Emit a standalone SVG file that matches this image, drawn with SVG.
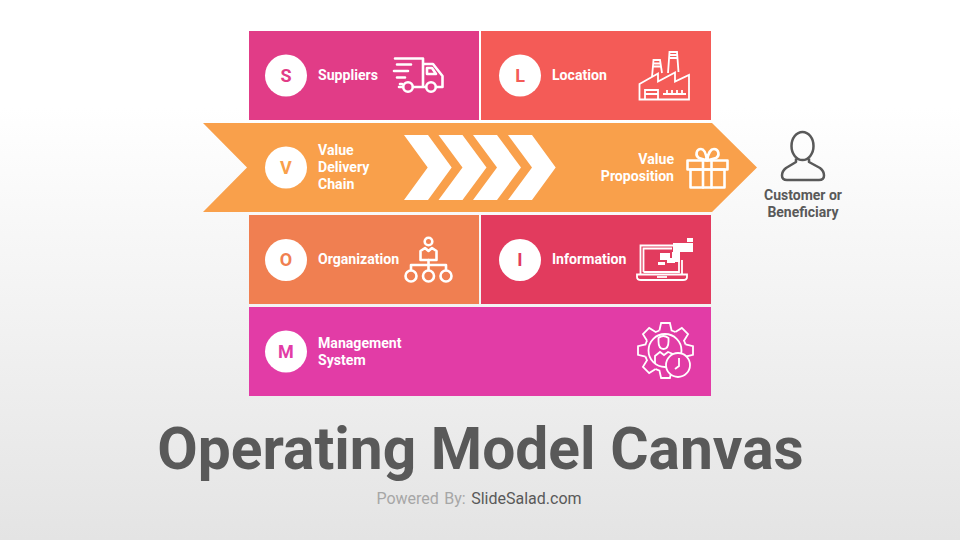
<svg xmlns="http://www.w3.org/2000/svg" width="960" height="540" viewBox="0 0 960 540">
<defs>
<linearGradient id="bg" x1="0" y1="0" x2="0" y2="1"><stop offset="0.2" stop-color="#ffffff"/><stop offset="1" stop-color="#e4e4e4"/></linearGradient>
<path id="tooth" d="M-6.100 -20L-4.400 -27.500H4.400L6.100 -20A21 21 0 0 1 9.830 -18.450"/>
</defs>
<style>
text{font-family:Roboto,"Liberation Sans",sans-serif}
.l{font-size:14.100px;font-weight:700;fill:#fff}
.c{font-size:18px;font-weight:700;text-anchor:middle}
.i{fill:none;stroke:#fff;stroke-width:2.600;stroke-linejoin:round;stroke-linecap:round}
.t{fill:none;stroke:#fff;stroke-width:1.800;stroke-linejoin:miter}
</style>
<rect width="960" height="540" fill="url(#bg)"/>
<g id="node-s">
<rect x="249" y="31" width="230" height="89" fill="#e13c87"/>
<circle cx="286" cy="75.500" r="21" fill="#fff"/><text class="c" x="286" y="81.500" fill="#e13c87">S</text>
<text class="l" x="318" y="80">Suppliers</text>
<g class="i">
<path d="M395 58.500H423V87H413M403 87H399M423 87H426M423 64H433L442.500 76V87H436"/>
<path d="M427 68H432L436 74H427Z"/>
<circle cx="408" cy="87" r="4.800"/><circle cx="431" cy="87" r="4.800"/>
<path d="M397 64.500H411M394 71H408M397 77.500H405M400 84H402"/>
</g>
</g>
<g id="node-l">
<rect x="481" y="31" width="230" height="89" fill="#f45b57"/>
<circle cx="520" cy="75.500" r="21" fill="#fff"/><text class="c" x="520" y="81.500" fill="#f45b57">L</text>
<text class="l" x="552" y="80">Location</text>
<g class="t">
<path d="M639.500 99.500V84L658 73.500V81.500L675 72.500V81.500L689 75V99.500Z"/>
<path d="M652 77L653.500 60H660L662 73"/><path d="M668 73L669.500 52H677L678.500 72"/>
<path d="M653 63.500H661M653 66.500H661M669.500 55H677.500M669.500 58H677.500"/>
<path d="M645 99V90H658V99M645 94H658"/>
<path d="M663 94H686M667 90V94M672 90V94M677 90V94M682 90V94"/>
</g>
</g>
<g id="node-v">
<path d="M203 123H712L757 167.500L712 212H203L247 167.500Z" fill="#f9a04b"/>
<circle cx="286" cy="167.500" r="21" fill="#fff"/><text class="c" x="286" y="174" fill="#f9a04b">V</text>
<text class="l" x="318" y="155">Value</text><text class="l" x="318" y="172">Delivery</text><text class="l" x="318" y="189">Chain</text>
<g fill="#fff">
<path d="M404 135H428L451.700 167.500L428 200H404L427.700 167.500Z"/>
<path d="M438.500 135H462.500L486.500 167.500L462.500 200H438.500L462.500 167.500Z"/>
<path d="M473 135H497L521 167.500L497 200H473L497 167.500Z"/>
<path d="M508 135H532L555.700 167.500L532 200H508L532 167.500Z"/>
</g>
<text class="l" x="674" y="164" text-anchor="end">Value</text><text class="l" x="674" y="181" text-anchor="end">Proposition</text>
<g class="i">
<rect x="687.500" y="160.500" width="40" height="9"/><rect x="690.500" y="169.500" width="34" height="18"/>
<path d="M703 160.500V187.500M711.500 160.500V187.500"/>
<path d="M707 160.500L699 158C695 156 696 149 701 149C704 149 706 153 707 160.500C708 153 711 149 714 149C719 149 720 156 716 158L707 160.500Z"/>
</g>
</g>
<g id="node-o">
<rect x="249" y="215" width="230" height="89" fill="#f07f51"/>
<circle cx="286" cy="260" r="21" fill="#fff"/><text class="c" x="286" y="266" fill="#f07f51">O</text>
<text class="l" x="318" y="264">Organization</text>
<g class="i">
<circle cx="428.500" cy="241.500" r="3.800"/>
<path d="M420.500 260V251L425 248L428.500 251L432 248L436.500 251V260Z"/>
<path d="M428.500 260V270M411 270V265H446V270"/>
<circle cx="411" cy="276" r="5.500"/><circle cx="428.500" cy="276" r="5.500"/><circle cx="446" cy="276" r="5.500"/>
</g>
</g>
<g id="node-i">
<rect x="481" y="215" width="230" height="89" fill="#e23b5e"/>
<circle cx="520" cy="260" r="21" fill="#fff"/><text class="c" x="520" y="266" fill="#e23b5e">I</text>
<text class="l" x="552" y="264">Information</text>
<g class="t">
<path d="M640.500 274V245.500H673M682 260V274"/>
<path d="M643.500 272V248.500H672M679 262V272H643.500"/>
<path d="M637 274.500H687V277Q687 280 683 280H641Q637 280 637 277Z"/>
<path d="M657 277H667"/>
</g>
<g fill="#fff">
<rect x="673" y="243" width="20" height="9"/><rect x="687" y="238" width="6" height="4"/>
<rect x="660" y="253" width="10" height="7"/><rect x="667" y="258" width="8" height="5"/>
<rect x="672" y="252" width="8" height="10"/><rect x="658" y="262" width="7" height="3"/>
</g>
</g>
<g id="node-m">
<rect x="249" y="307" width="462" height="89" fill="#e23ca6"/>
<circle cx="286" cy="351.500" r="21" fill="#fff"/><text class="c" x="286" y="358" fill="#e23ca6">M</text>
<text class="l" x="318" y="348">Management</text><text class="l" x="318" y="365">System</text>
<g class="t">
<g transform="translate(665.500 350.500)">
<use href="#tooth"/><use href="#tooth" transform="rotate(45)"/><use href="#tooth" transform="rotate(90)"/><use href="#tooth" transform="rotate(135)"/>
<use href="#tooth" transform="rotate(180)"/><use href="#tooth" transform="rotate(225)"/><use href="#tooth" transform="rotate(270)"/><use href="#tooth" transform="rotate(315)"/>
</g>
<circle cx="665" cy="350.500" r="16.500"/>
<path d="M658.500 341.500V338Q663 334 668.500 338V341.500Q668.500 349 663.500 349Q658.500 349 658.500 341.500Z"/>
<path d="M655 364V356L660 352L664 355L668 352L673 354"/>
<circle cx="678" cy="365" r="12" fill="#e23ca6"/>
<path d="M679 358V366L675 369"/>
</g>
</g>
<g id="node-customer">
<g fill="none" stroke="#595959" stroke-width="2.500" stroke-linejoin="round">
<ellipse cx="802.500" cy="146" rx="11" ry="14"/>
<path d="M796 158.500V162L786 168Q782 171 782 175.500Q782 180 787 180H819Q824 180 824 175.500Q824 171 820 168L809 162V158.500"/>
</g>
<text x="803" y="200" text-anchor="middle" font-size="14" font-weight="700" fill="#595959">Customer or</text>
<text x="803" y="217" text-anchor="middle" font-size="14" font-weight="700" fill="#595959">Beneficiary</text>
</g>
<text x="480.500" y="469" text-anchor="middle" font-size="58.700" font-weight="700" fill="#595959">Operating Model Canvas</text>
<text x="479" y="504" text-anchor="middle" font-size="16" word-spacing="1.500"><tspan fill="#a6a6a6">Powered By: </tspan><tspan fill="#595959">SlideSalad.com</tspan></text>
<g id="connectors"/>
</svg>
